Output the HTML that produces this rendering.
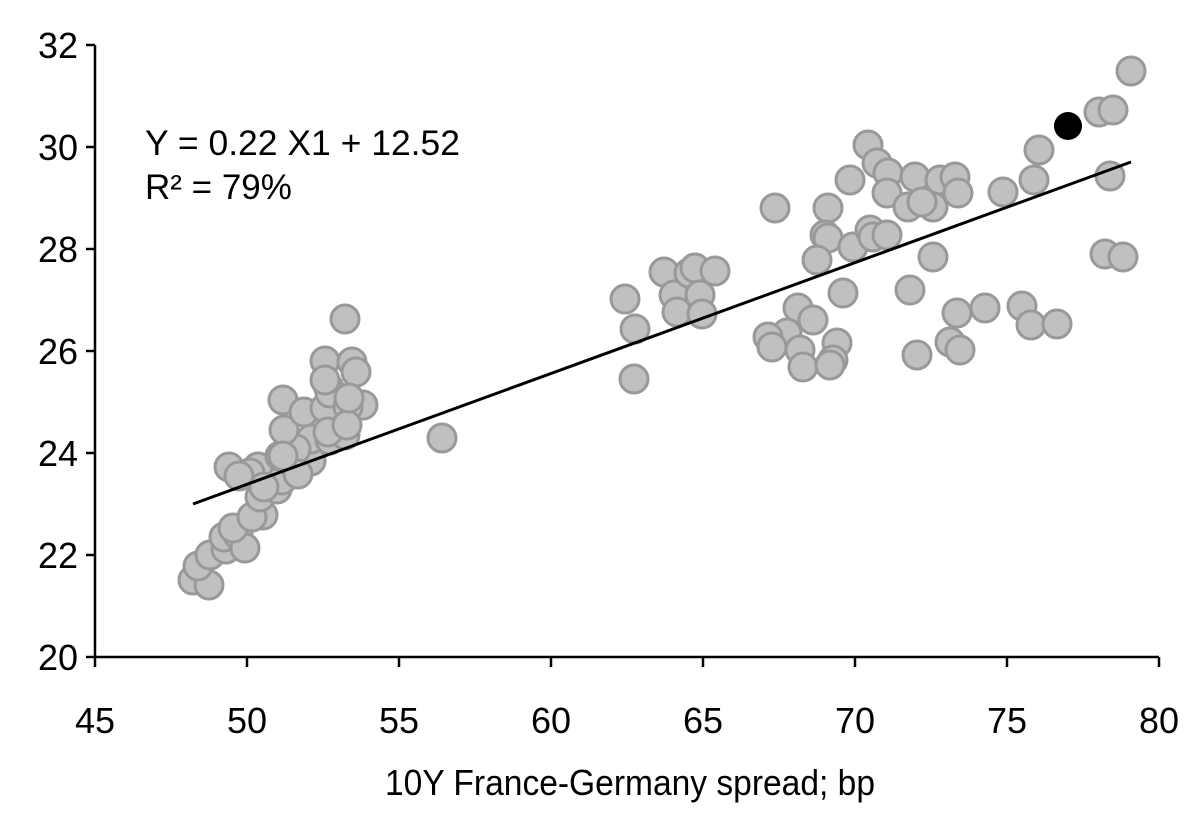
<!DOCTYPE html>
<html><head><meta charset="utf-8"><style>body{margin:0;background:#fff}</style></head><body>
<svg width="1200" height="823" xmlns="http://www.w3.org/2000/svg" font-family="Liberation Sans Narrow, Liberation Sans, sans-serif">
<rect width="1200" height="823" fill="#fff"/>
<g stroke="#000" stroke-width="2.5" fill="none">
<line x1="95" y1="45" x2="95" y2="657"/>
<line x1="95" y1="657" x2="1159" y2="657"/>
</g>
<g stroke="#000" stroke-width="2.5" id="ticks"></g>
<g font-size="36" text-anchor="end" fill="#000">
<text x="78" y="58">32</text><text x="78" y="160">30</text><text x="78" y="262">28</text><text x="78" y="364">26</text><text x="78" y="466">24</text><text x="78" y="568">22</text><text x="78" y="670">20</text>
</g>
<g font-size="36" text-anchor="middle" fill="#000">
<text x="95" y="733">45</text><text x="247" y="733">50</text><text x="399" y="733">55</text><text x="551" y="733">60</text><text x="703" y="733">65</text><text x="855" y="733">70</text><text x="1007" y="733">75</text><text x="1159" y="733">80</text>
<text x="630" y="795" textLength="490" lengthAdjust="spacingAndGlyphs">10Y France-Germany spread; bp</text>
</g>
<text x="145" y="155" font-size="35" textLength="315" lengthAdjust="spacingAndGlyphs">Y = 0.22 X1 + 12.52</text>
<text x="145" y="199" font-size="35">R² = 79%</text>
<g id="pts" fill="#c0c0c0" stroke="#999" stroke-width="3"></g>
<line x1="193" y1="504" x2="1131" y2="162" stroke="#000" stroke-width="3"/>
<circle cx="1068" cy="126" r="14" fill="#000"/>
<script>
var t=document.getElementById('ticks'),ns='http://www.w3.org/2000/svg';
for(var i=0;i<7;i++){var l=document.createElementNS(ns,'line');l.setAttribute('x1',86);l.setAttribute('x2',95);l.setAttribute('y1',45+i*102);l.setAttribute('y2',45+i*102);t.appendChild(l);}
for(var i=0;i<8;i++){var l=document.createElementNS(ns,'line');var x=95+i*152;l.setAttribute('x1',x);l.setAttribute('x2',x);l.setAttribute('y1',657);l.setAttribute('y2',667);t.appendChild(l);}
var P=[[193,580],[209,585],[198,566],[210,555],[226,549],[224,537],[238,535],[245,548],[233,528],[229,467],[258,467],[263,515],[252,517],[260,497],[250,473],[239,476],[277,489],[282,480],[264,487],[280,456],[296,468],[311,461],[311,439],[296,449],[298,474],[283,400],[284,430],[283,456],[304,412],[329,388],[325,408],[330,440],[345,435],[330,393],[363,405],[348,407],[328,432],[325,361],[325,380],[352,362],[356,372],[345,319],[347,425],[349,398],[442,438],
[625,299],[635,329],[634,379],[664,272],[674,295],[677,312],[689,273],[695,268],[700,295],[702,314],[715,271],
[868,145],[877,163],[850,180],[888,173],[915,177],[940,180],[955,177],[958,193],[887,193],[908,207],[933,207],[922,202],[828,208],[775,208],[825,235],[828,238],[853,247],[870,230],[873,237],[887,235],[817,260],[933,257],[910,290],[843,293],[798,308],[813,320],[787,333],[768,337],[772,347],[800,350],[837,343],[833,360],[803,367],[830,365],[917,355],[957,313],[985,308],[950,342],[960,350],[1003,192],
[1022,306],[1031,325],[1057,324],[1039,150],[1034,180],[1099,112],[1113,110],[1110,176],[1105,254],[1123,257],[1131,71]];
var g=document.getElementById('pts');
P.forEach(function(p){var c=document.createElementNS(ns,'circle');c.setAttribute('cx',p[0]);c.setAttribute('cy',p[1]);c.setAttribute('r',14);g.appendChild(c);});
</script>
</svg>
</body></html>
